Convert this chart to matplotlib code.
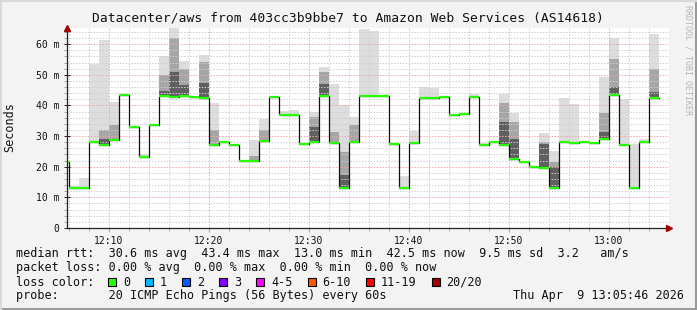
import numpy as np
import matplotlib
matplotlib.use("Agg")
import matplotlib.pyplot as plt
from matplotlib.patches import Rectangle

plt.rcParams['font.family'] = ['DejaVu Sans Mono']

# one step per minute, minutes after 12:00 (12:05 .. 13:04)
minutes = list(range(5, 65))

median = [21.6, 13.0, 13.2, 28.2, 27.2, 28.8, 43.5, 32.9, 23.3, 33.7,
          43.2, 42.8, 43.2, 42.8, 42.5, 27.1, 28.2, 27.2, 21.8, 21.8,
          28.4, 42.8, 37.0, 37.0, 27.5, 28.2, 43.2, 27.6, 13.2, 28.2,
          43.2, 43.2, 43.2, 27.5, 13.2, 27.8, 42.5, 42.5, 42.8, 37.0,
          37.3, 42.8, 27.2, 28.2, 27.2, 22.5, 21.6, 19.9, 19.7, 13.2,
          28.2, 27.8, 28.2, 27.8, 29.0, 43.4, 27.2, 13.2, 28.2, 42.5]

# top of smoke (slowest ping)
smoke_max = [None, 13.8, 16.2, 53.5, 61.3, 41.0, None, None, 24.0, None,
             56.1, 65.3, 54.5, None, 56.4, 40.8, None, None, None, 28.7,
             35.5, None, 38.2, 38.5, None, 37.9, 52.6, 47.0, 40.0, 36.2,
             64.9, 64.2, None, None, 17.0, 31.6, 46.0, 45.8, None, None,
             None, 43.9, 27.9, None, 43.8, 37.6, None, None, 31.1, 25.2,
             42.4, 40.4, None, None, 49.2, 62.1, 42.1, 27.5, 29.0, 63.3]

# medium grey part of the smoke
smoke_mid = [None, None, None, None, 32.0, 33.6, None, None, None, None,
             49.9, 62.0, 52.0, None, 54.3, 32.0, None, None, None, 23.5,
             32.0, None, None, None, None, 36.3, 51.0, 31.4, 24.9, 33.6,
             None, None, None, None, None, None, None, None, None, None,
             None, None, None, None, 40.7, 34.7, None, None, 28.2, 21.6,
             None, None, None, None, 37.4, 55.3, None, None, None, 52.0]

# dark core of the smoke
smoke_dark = [None, None, None, None, 29.0, None, None, None, None, None,
              44.8, 51.0, 46.6, None, 47.2, None, None, None, None, None,
              None, None, None, None, None, 33.0, 47.0, None, 17.3, None,
              None, None, None, None, None, None, None, None, None, None,
              None, None, None, None, 34.7, 29.2, None, None, 27.5, 20.0,
              None, None, None, None, 31.4, 46.0, None, None, None, 44.5]

xtick_pos = [10, 20, 30, 40, 50, 60]
xtick_lab = ['12:10', '12:20', '12:30', '12:40', '12:50', '13:00']
ytick_pos = [0, 10, 20, 30, 40, 50, 60]
ytick_lab = ['0', '10 m', '20 m', '30 m', '40 m', '50 m', '60 m']

loss_labels = ['0', '1', '2', '3', '4-5', '6-10', '11-19', '20/20']
loss_colors = ['#26ff00', '#00b8ff', '#0059ff', '#7e00ff', '#ff00ff',
               '#ff5500', '#ff0000', '#a10000']

W, H = 697, 310
fig = plt.figure(figsize=(W / 100, H / 100), dpi=100, facecolor='#f3f3f3')
ax = fig.add_axes([67 / W, (H - 228) / H, 602 / W, 200 / H])
ax.set_facecolor('white')

t = np.array(minutes, dtype=float)
med = np.array(median, dtype=float)


def smoke(top, color):
    top = np.array([np.nan if v is None else v for v in top], dtype=float)
    ok = ~np.isnan(top)
    ax.bar(t[ok], top[ok] - med[ok], bottom=med[ok], width=1.0, align='edge',
           color=color, linewidth=0, zorder=1)


smoke(smoke_max, '#dddddd')
smoke(smoke_mid, '#a6a6a6')
smoke(smoke_dark, '#606060')

edges = np.append(t, t[-1] + 1)
ax.step(edges, np.append(med, med[-1]), where='post', color='#111111',
        lw=0.9, zorder=3)
ax.hlines(med, t, t + 1, colors='#26ff00', lw=1.6, zorder=4)

ax.set_xlim(5.83, 66.03)
ax.set_ylim(0, 65.3)

ax.set_xticks(xtick_pos)
ax.set_xticklabels(xtick_lab)
ax.set_xticks(np.arange(6, 67, 2), minor=True)
ax.set_yticks(ytick_pos)
ax.set_yticklabels(ytick_lab)
ax.set_yticks(np.arange(0, 66, 2), minor=True)

# grid sits between the smoke and the median line
ax.set_axisbelow(False)
ax.grid(which='minor', color='#cfcfcf', lw=0.7, linestyle=(0, (1.5, 1.5)), zorder=2)
ax.grid(which='major', color='#f2a6a6', lw=0.7, linestyle=(0, (1.5, 1.5)), zorder=2)

for s in ['top', 'right']:
    ax.spines[s].set_visible(False)
for s in ['left', 'bottom']:
    ax.spines[s].set_color('#222222')
    ax.spines[s].set_linewidth(0.9)
    ax.spines[s].set_zorder(5)

ax.tick_params(which='major', labelsize=7, length=3, width=0.7,
               color='#e08080', pad=3)
ax.tick_params(axis='y', which='major', color='#222222', direction='inout', length=5)
ax.tick_params(which='minor', length=2, width=0.6, color='#999999')
for lab in ax.get_xticklabels() + ax.get_yticklabels():
    lab.set_color('#111111')

# axis arrows
ax.plot([5.83], [65.3], marker='^', ms=4, color='#a00000', clip_on=False, zorder=6)
ax.plot([66.03], [0], marker='>', ms=4, color='#a00000', clip_on=False, zorder=6)

mono = dict(family='DejaVu Sans Mono', color='#111111')
fig.text(347.5 / W, 1 - 18 / H,
         'Datacenter/aws from 403cc3b9bbe7 to Amazon Web Services (AS14618)',
         ha='center', va='center', fontsize=9.4, **mono)
fig.text(9.5 / W, 1 - 127 / H, 'Seconds', rotation=90, ha='center',
         va='center', fontsize=8.5, **mono)
fig.text(688 / W, 1 - 60 / H, 'RRDTOOL / TOBI OETIKER', rotation=270,
         ha='center', va='center', fontsize=6, family='DejaVu Sans Mono',
         color='#b5b5b5')

fig.text(16 / W, 1 - 254 / H,
         'median rtt:  30.6 ms avg  43.4 ms max  13.0 ms min  42.5 ms now  9.5 ms sd  3.2   am/s',
         va='center', fontsize=8.5, **mono)
fig.text(16 / W, 1 - 268 / H,
         'packet loss: 0.00 % avg  0.00 % max  0.00 % min  0.00 % now',
         va='center', fontsize=8.5, **mono)
fig.text(16 / W, 1 - 282 / H, 'loss color:', va='center', fontsize=8.5, **mono)
fig.text(16 / W, 1 - 296 / H,
         'probe:       20 ICMP Echo Pings (56 Bytes) every 60s',
         va='center', fontsize=8.5, **mono)
fig.text(513 / W, 1 - 296 / H, 'Thu Apr  9 13:05:46 2026',
         va='center', fontsize=8.5, **mono)

x = 108.3
for lab, col in zip(loss_labels, loss_colors):
    fig.add_artist(Rectangle((x / W, 1 - 286 / H), 8 / W, 8 / H,
                             transform=fig.transFigure, facecolor=col,
                             edgecolor='black', lw=0.8))
    fig.text((x + 14.7) / W, 1 - 282 / H, lab, va='center', fontsize=8.5, **mono)
    x += 29.85 + 7.15 * len(lab)

# rrdtool style frame
fig.add_artist(plt.Line2D([0, 1], [1 / H, 1 / H], color='#9a9a9a', lw=1.5,
                          transform=fig.transFigure))
fig.add_artist(plt.Line2D([1 - 1 / W, 1 - 1 / W], [0, 1], color='#9a9a9a', lw=1.5,
                          transform=fig.transFigure))
fig.add_artist(plt.Line2D([0, 1], [1 - 1 / H, 1 - 1 / H], color='#d8d8d8', lw=1.5,
                          transform=fig.transFigure))
fig.add_artist(plt.Line2D([1 / W, 1 / W], [0, 1], color='#d8d8d8', lw=1.5,
                          transform=fig.transFigure))

fig.savefig('out.png', dpi=100, facecolor=fig.get_facecolor())
